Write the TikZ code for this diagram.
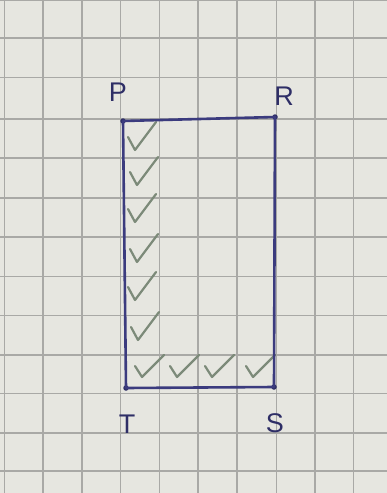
\documentclass[tikz,border=0pt]{standalone}
\usepackage{fontspec}
\setmainfont{Liberation Sans}
\definecolor{paper}{HTML}{E6E6E0}
\definecolor{gridc}{HTML}{A9A9A6}
\definecolor{ink}{HTML}{3B3B7E}
\definecolor{labelc}{HTML}{2E2E66}
\definecolor{tickc}{HTML}{7C8A79}
\tikzset{
  side/.style={draw=ink, line width=2.6pt, line cap=round, line join=round},
  corner/.style={circle, fill=ink!80!black, inner sep=0pt, minimum size=5.5pt},
  lbl/.style={text=labelc, font=\fontsize{27}{27}\selectfont, inner sep=0pt},
  tickline/.style={draw=tickc, line width=2.2pt, line cap=round, line join=round},
  chk/.pic={\draw[tickline] (-7,-13) -- (0,0) -- (21,-28);},
  chkw/.pic={\draw[tickline] (-7,-11) -- (0,0) -- (22,-22);}
}
\begin{document}
\begin{tikzpicture}[x=1pt,y=-1pt]
\useasboundingbox (0,0) rectangle (387,493);
\fill[paper] (0,0) rectangle (387,493);
% grid
\foreach \gx in {4.5,43,82,120.5,159.5,198,237,276.5,315,353.5}
  \draw[gridc, line width=1.1pt] (\gx,0) -- (\gx,493);
\foreach \gy in {0,38,77.5,119,158,198,237,276.5,315.5,355,393.5,433,471}
  \draw[gridc, line width=1.1pt] (0,\gy) -- (387,\gy);
% checks (left column)
\pic at (135,150) {chk};
\pic at (137,185) {chk};
\pic at (135,222) {chk};
\pic at (137,262) {chk};
\pic at (135,300) {chk};
\pic at (138,340) {chk};
% checks (bottom row)
\pic at (142,377) {chkw};
\pic at (177,377) {chkw};
\pic at (212,377) {chkw};
\pic at (253,377) {chkw};
% corners
\node[corner] (P) at (123,121) {};
\node[corner] (R) at (275,117) {};
\node[corner] (S) at (274,387) {};
\node[corner] (T) at (126,388) {};
\draw[side] (P.center) -- (R.center) -- (S.center) -- (T.center) -- cycle;
% labels
\node[lbl] (lP) at (118,92) {P};
\node[lbl] (lR) at (284,96) {R};
\node[lbl] (lT) at (127,424) {T};
\node[lbl] (lS) at (275,423) {S};
\end{tikzpicture}
\end{document}
